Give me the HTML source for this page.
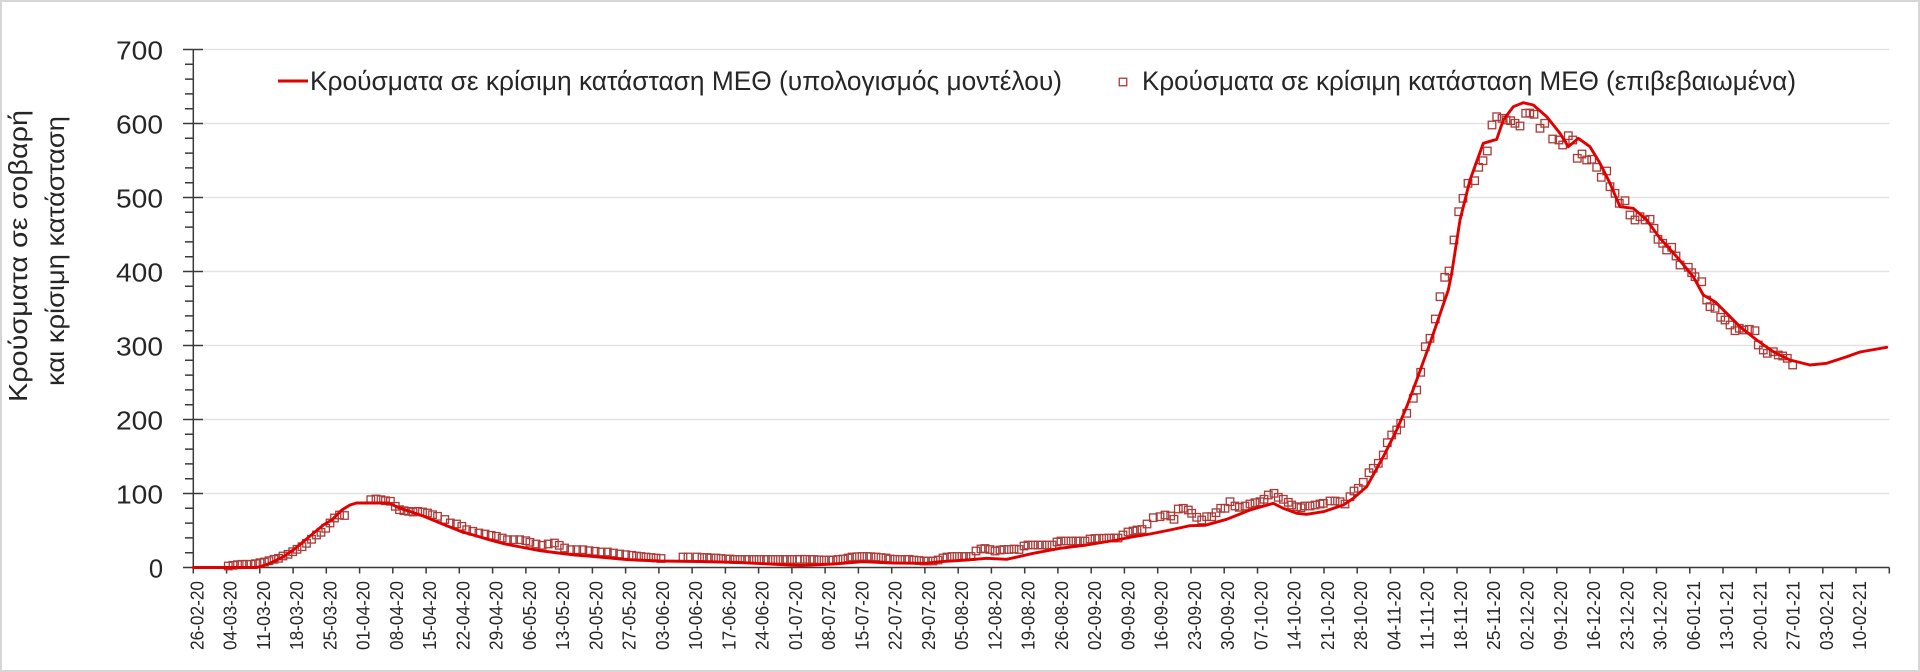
<!DOCTYPE html>
<html><head><meta charset="utf-8"><style>
html,body{margin:0;padding:0;background:#fff;}
svg{display:block;}
text{font-family:"Liberation Sans","DejaVu Sans",sans-serif;fill:#262626;}
</style></head><body>
<svg width="1920" height="672" viewBox="0 0 1920 672" xmlns="http://www.w3.org/2000/svg">
<defs>
<marker id="sq" markerUnits="userSpaceOnUse" markerWidth="12" markerHeight="12" refX="6" refY="6" overflow="visible">
<rect x="2.25" y="2.25" width="7.5" height="7.5" fill="none" stroke="#a93b38" stroke-width="1.3"/>
</marker>
</defs>
<rect x="0" y="0" width="1920" height="672" fill="#fff"/>
<rect x="1" y="1" width="1918" height="670" fill="none" stroke="#d6d6d6" stroke-width="2"/>

<!-- gridlines -->
<g stroke="#e2e2e2" stroke-width="1.6">
<path d="M203 49.5H1889.3M203 123.5H1889.3M203 197.5H1889.3M203 271.5H1889.3M203 345.5H1889.3M203 419.5H1889.3M203 493.5H1889.3"/>
</g>

<!-- axes -->
<g stroke="#3a3a3a" stroke-width="1.5" fill="none">
<path d="M193.3 49.5V567.5M183 567.5H1889.3"/>
<path d="M183 49.5H203M183 123.5H203M183 197.5H203M183 271.5H203M183 345.5H203M183 419.5H203M183 493.5H203"/>
<path d="M185 64.3H193M185 79.1H193M185 93.9H193M185 108.7H193M185 138.3H193M185 153.1H193M185 167.9H193M185 182.7H193M185 212.3H193M185 227.1H193M185 241.9H193M185 256.7H193M185 286.3H193M185 301.1H193M185 315.9H193M185 330.7H193M185 360.3H193M185 375.1H193M185 389.9H193M185 404.7H193M185 434.3H193M185 449.1H193M185 463.9H193M185 478.7H193M185 508.3H193M185 523.1H193M185 537.9H193M185 552.7H193"/>
<path d="M193.3 567.5v6M226.6 567.5v6M259.8 567.5v6M293.1 567.5v6M326.3 567.5v6M359.6 567.5v6M392.8 567.5v6M426.1 567.5v6M459.3 567.5v6M492.6 567.5v6M525.9 567.5v6M559.1 567.5v6M592.4 567.5v6M625.6 567.5v6M658.9 567.5v6M692.1 567.5v6M725.4 567.5v6M758.6 567.5v6M791.9 567.5v6M825.1 567.5v6M858.4 567.5v6M891.7 567.5v6M924.9 567.5v6M958.2 567.5v6M991.4 567.5v6M1024.7 567.5v6M1057.9 567.5v6M1091.2 567.5v6M1124.4 567.5v6M1157.7 567.5v6M1191 567.5v6M1224.2 567.5v6M1257.5 567.5v6M1290.7 567.5v6M1324 567.5v6M1357.2 567.5v6M1390.5 567.5v6M1423.7 567.5v6M1457 567.5v6M1490.2 567.5v6M1523.5 567.5v6M1556.8 567.5v6M1590 567.5v6M1623.3 567.5v6M1656.5 567.5v6M1689.8 567.5v6M1723 567.5v6M1756.3 567.5v6M1789.5 567.5v6M1822.8 567.5v6M1856 567.5v6M1889.3 567.5v6"/>
</g>

<!-- y tick labels -->
<g font-size="25.5" text-anchor="end">
<text x="163" y="59.5" textLength="47" lengthAdjust="spacingAndGlyphs">700</text>
<text x="163" y="133.5" textLength="47" lengthAdjust="spacingAndGlyphs">600</text>
<text x="163" y="207.5" textLength="47" lengthAdjust="spacingAndGlyphs">500</text>
<text x="163" y="281.5" textLength="47" lengthAdjust="spacingAndGlyphs">400</text>
<text x="163" y="355.5" textLength="47" lengthAdjust="spacingAndGlyphs">300</text>
<text x="163" y="429.5" textLength="47" lengthAdjust="spacingAndGlyphs">200</text>
<text x="163" y="503.5" textLength="47" lengthAdjust="spacingAndGlyphs">100</text>
<text x="163" y="577.5">0</text>
</g>

<!-- y axis title -->
<g font-size="26" text-anchor="middle">
<text transform="translate(27,256) rotate(-90)" textLength="292" lengthAdjust="spacingAndGlyphs">Κρούσματα σε σοβαρή</text>
<text transform="translate(64,251) rotate(-90)" textLength="270" lengthAdjust="spacingAndGlyphs">και κρίσιμη κατάσταση</text>
</g>

<!-- x tick labels -->
<g font-size="18" text-anchor="end">
<text transform="translate(203.3,581) rotate(-90)" textLength="69" lengthAdjust="spacingAndGlyphs">26-02-20</text>
<text transform="translate(236.6,581) rotate(-90)" textLength="69" lengthAdjust="spacingAndGlyphs">04-03-20</text>
<text transform="translate(269.8,581) rotate(-90)" textLength="69" lengthAdjust="spacingAndGlyphs">11-03-20</text>
<text transform="translate(303.1,581) rotate(-90)" textLength="69" lengthAdjust="spacingAndGlyphs">18-03-20</text>
<text transform="translate(336.3,581) rotate(-90)" textLength="69" lengthAdjust="spacingAndGlyphs">25-03-20</text>
<text transform="translate(369.6,581) rotate(-90)" textLength="69" lengthAdjust="spacingAndGlyphs">01-04-20</text>
<text transform="translate(402.8,581) rotate(-90)" textLength="69" lengthAdjust="spacingAndGlyphs">08-04-20</text>
<text transform="translate(436.1,581) rotate(-90)" textLength="69" lengthAdjust="spacingAndGlyphs">15-04-20</text>
<text transform="translate(469.3,581) rotate(-90)" textLength="69" lengthAdjust="spacingAndGlyphs">22-04-20</text>
<text transform="translate(502.6,581) rotate(-90)" textLength="69" lengthAdjust="spacingAndGlyphs">29-04-20</text>
<text transform="translate(535.9,581) rotate(-90)" textLength="69" lengthAdjust="spacingAndGlyphs">06-05-20</text>
<text transform="translate(569.1,581) rotate(-90)" textLength="69" lengthAdjust="spacingAndGlyphs">13-05-20</text>
<text transform="translate(602.4,581) rotate(-90)" textLength="69" lengthAdjust="spacingAndGlyphs">20-05-20</text>
<text transform="translate(635.6,581) rotate(-90)" textLength="69" lengthAdjust="spacingAndGlyphs">27-05-20</text>
<text transform="translate(668.9,581) rotate(-90)" textLength="69" lengthAdjust="spacingAndGlyphs">03-06-20</text>
<text transform="translate(702.1,581) rotate(-90)" textLength="69" lengthAdjust="spacingAndGlyphs">10-06-20</text>
<text transform="translate(735.4,581) rotate(-90)" textLength="69" lengthAdjust="spacingAndGlyphs">17-06-20</text>
<text transform="translate(768.6,581) rotate(-90)" textLength="69" lengthAdjust="spacingAndGlyphs">24-06-20</text>
<text transform="translate(801.9,581) rotate(-90)" textLength="69" lengthAdjust="spacingAndGlyphs">01-07-20</text>
<text transform="translate(835.1,581) rotate(-90)" textLength="69" lengthAdjust="spacingAndGlyphs">08-07-20</text>
<text transform="translate(868.4,581) rotate(-90)" textLength="69" lengthAdjust="spacingAndGlyphs">15-07-20</text>
<text transform="translate(901.7,581) rotate(-90)" textLength="69" lengthAdjust="spacingAndGlyphs">22-07-20</text>
<text transform="translate(934.9,581) rotate(-90)" textLength="69" lengthAdjust="spacingAndGlyphs">29-07-20</text>
<text transform="translate(968.2,581) rotate(-90)" textLength="69" lengthAdjust="spacingAndGlyphs">05-08-20</text>
<text transform="translate(1001.4,581) rotate(-90)" textLength="69" lengthAdjust="spacingAndGlyphs">12-08-20</text>
<text transform="translate(1034.7,581) rotate(-90)" textLength="69" lengthAdjust="spacingAndGlyphs">19-08-20</text>
<text transform="translate(1067.9,581) rotate(-90)" textLength="69" lengthAdjust="spacingAndGlyphs">26-08-20</text>
<text transform="translate(1101.2,581) rotate(-90)" textLength="69" lengthAdjust="spacingAndGlyphs">02-09-20</text>
<text transform="translate(1134.4,581) rotate(-90)" textLength="69" lengthAdjust="spacingAndGlyphs">09-09-20</text>
<text transform="translate(1167.7,581) rotate(-90)" textLength="69" lengthAdjust="spacingAndGlyphs">16-09-20</text>
<text transform="translate(1201,581) rotate(-90)" textLength="69" lengthAdjust="spacingAndGlyphs">23-09-20</text>
<text transform="translate(1234.2,581) rotate(-90)" textLength="69" lengthAdjust="spacingAndGlyphs">30-09-20</text>
<text transform="translate(1267.5,581) rotate(-90)" textLength="69" lengthAdjust="spacingAndGlyphs">07-10-20</text>
<text transform="translate(1300.7,581) rotate(-90)" textLength="69" lengthAdjust="spacingAndGlyphs">14-10-20</text>
<text transform="translate(1334,581) rotate(-90)" textLength="69" lengthAdjust="spacingAndGlyphs">21-10-20</text>
<text transform="translate(1367.2,581) rotate(-90)" textLength="69" lengthAdjust="spacingAndGlyphs">28-10-20</text>
<text transform="translate(1400.5,581) rotate(-90)" textLength="69" lengthAdjust="spacingAndGlyphs">04-11-20</text>
<text transform="translate(1433.7,581) rotate(-90)" textLength="69" lengthAdjust="spacingAndGlyphs">11-11-20</text>
<text transform="translate(1467,581) rotate(-90)" textLength="69" lengthAdjust="spacingAndGlyphs">18-11-20</text>
<text transform="translate(1500.2,581) rotate(-90)" textLength="69" lengthAdjust="spacingAndGlyphs">25-11-20</text>
<text transform="translate(1533.5,581) rotate(-90)" textLength="69" lengthAdjust="spacingAndGlyphs">02-12-20</text>
<text transform="translate(1566.8,581) rotate(-90)" textLength="69" lengthAdjust="spacingAndGlyphs">09-12-20</text>
<text transform="translate(1600,581) rotate(-90)" textLength="69" lengthAdjust="spacingAndGlyphs">16-12-20</text>
<text transform="translate(1633.3,581) rotate(-90)" textLength="69" lengthAdjust="spacingAndGlyphs">23-12-20</text>
<text transform="translate(1666.5,581) rotate(-90)" textLength="69" lengthAdjust="spacingAndGlyphs">30-12-20</text>
<text transform="translate(1699.8,581) rotate(-90)" textLength="69" lengthAdjust="spacingAndGlyphs">06-01-21</text>
<text transform="translate(1733,581) rotate(-90)" textLength="69" lengthAdjust="spacingAndGlyphs">13-01-21</text>
<text transform="translate(1766.3,581) rotate(-90)" textLength="69" lengthAdjust="spacingAndGlyphs">20-01-21</text>
<text transform="translate(1799.5,581) rotate(-90)" textLength="69" lengthAdjust="spacingAndGlyphs">27-01-21</text>
<text transform="translate(1832.8,581) rotate(-90)" textLength="69" lengthAdjust="spacingAndGlyphs">03-02-21</text>
<text transform="translate(1866,581) rotate(-90)" textLength="69" lengthAdjust="spacingAndGlyphs">10-02-21</text>
</g>

<!-- confirmed (squares) -->
<polyline fill="none" stroke="none" marker-start="url(#sq)" marker-mid="url(#sq)" marker-end="url(#sq)" points="
228.3,566 233,565.3 237.5,564.7 242,564.3 246.7,564.3 251,564.3 255.5,563.7 260,562.7 264.5,562 269,560.7 274,559.3 278.5,558.3 283,556 288,554.3 292.7,551.7 297,549.3 302,546.7 306.5,543.3 311.5,539.3 316.5,535 321,532.3 325.7,528.3 330,523 334.5,518 339.5,515 344.5,515.5
370.8,499.7 376,499 381,499.7 385.5,500.7 390.4,501.3 395.3,506.3 399.5,509.7 404,510.7 408.5,511.3 413,512 417.7,511.3 422.5,512 427.5,513 432.5,514.7 437.5,516.3 444.8,519.5 450.3,523 456.5,524 461.8,526.3 466.7,529.7 472.8,531.3 478.9,533 485,534 491.1,535.3 496.4,536.3 502.2,538 507.5,539.7 513.6,539.7 519.7,539.7 525.8,540.7 529.9,542.3 536,544 542.1,545.3 548.2,544 554.4,543 559.3,545.3 564.6,548 570.7,549.7 576.8,549.7 582.9,549.7 589,550.7 595.1,551.3 601.2,552 607.4,552 613.5,553 619.6,554 625.7,554.7 631.8,555.3
636.5,556 641,556.5 646,557 651,557.5 656,558 661,558.5
683,557 688,557 697,557 702,557.5 707,557.5 711,558 716,558 721,558.5 726,559 730,559 735,559.5 740,559.5 745,559.5 749,559.5 754,559.5 759,559.5 764,559.5 768,559.5 773,559.5 778,559.5 783,559.5 787,559.5 792,559.5 797,559.5
800,559.3 805,559.3 810,559.5 814,559.5 819,559.8 824,560 829,560 833,560 838,559.5 843,559 848,558 852,557 857,556.7 862,556.5 867,556.5 871,556.7 876,557 881,557.5 886,558 890,559 895,559.3 900,559.5 905,559.5 909,559.3 914,560 919,560.5 924,561 928,561 933,561 938,560 943,558 947,557 952,556.5 957,556.5 962,556.5 966,556.5 971,556.5 976,551 981,549 985,548.5 990,549.5 995,551 1000,550 1004,549.5 1009,549.5 1014,549 1019,549.5 1024,546 1028,545 1033,545 1038,545 1042,545 1047,545 1052,545 1057,542 1061,541 1066,541 1071,541 1076,541 1080,541 1085,541 1090,539 1095,538.5 1099,538.3 1104,538.3 1109,538 1114,538 1118,538 1123,535 1128,532 1133,531 1137,530 1142,529.5 1147,524
1153.3,517.7 1160,516.7 1165,515 1170.7,516 1174,519.3 1178.3,509 1183.3,508.3 1188.3,510 1191.7,513.3 1196.7,517.3 1201.7,520 1206.7,516.7 1211.7,516.7 1216,512.7 1220.7,508.3 1225,508.3 1230,501.7 1235,506 1239.3,507.3 1245,506 1250,504 1255,502.7 1260,501.7 1264,499.3 1268.3,495 1274,493.3 1278.3,497.3 1283.3,499.3 1288.3,502.3 1291.7,505 1296.7,506.7 1301,507.7 1305,506 1310,506 1315,505 1320,504 1323.3,503.3 1330,501 1335,501 1340,501.7 1345,504 1350,496.7 1354,491 1358.3,488.3 1363.3,482.3 1369,472.7 1373.3,468.3 1378.3,463.3 1383.3,455 1387.3,442.7 1391.7,435 1396.7,430 1400.7,423.3 1406.7,413.3 1413.3,398.3 1416.7,390
1420.7,372.3 1425.3,346.7 1430,338.3 1435.3,319 1440,296.7 1444.7,277.3 1449,271 1454,240 1458.7,211.7 1463,198.3 1468,183.3 1474.7,180.7 1478.7,167.3 1483,160.7 1487.3,151 1492,125 1496.7,116.7 1502,118.3 1506,120 1510.7,120.7 1515,123.3 1520,126 1525.7,113.3 1529.8,113 1534,114.3 1540,128.3 1544.7,123.3 1552.7,139 1559,140 1562.7,145 1568.3,135.7 1572.7,140 1577.3,158.3 1582,154 1586.7,160 1591.7,159.3 1596.7,167.3 1601.3,177.3 1606.7,171 1610,186.7 1615,193.3 1619.3,203.3 1625,200.7 1630,215 1635,220 1640,216.7 1645,220 1650,219.3 1654,228.3 1658,239.3 1662.7,243.3 1666.7,250 1671.7,247.3 1676,256 1680,265
1688.3,267.3 1691.7,272.7 1695,276.7 1701.7,281.7 1706.7,300 1710,306.7 1715,308.3 1720.7,317.3 1725,320 1730,325 1735,330.7 1739.3,328.3 1744,330 1749.3,329.3 1755,330.7 1758.3,345 1763.3,350 1767.3,353.3 1773.3,351.7 1778.3,355 1782.7,356 1787.3,358.3 1792.7,365"/>

<!-- model line -->
<polyline fill="none" stroke="#e00000" stroke-width="2.9" stroke-linejoin="round" stroke-linecap="round" points="
193.3,567.5 256.7,567.5 260,566.7 270,563.3 283.3,556.7 293.3,550 303.3,541.7 313.3,533.3 323.3,525 331.7,520 342.2,509.7 350,505 356.5,503 389,503 399.3,508 410,511.5 423.8,516.3 440.1,523 460.5,531.3 475,535.5 489.1,539.7 505,544 525.8,548 540,550.7 558.5,553 575,555 591.1,556.3 610,558 627.8,559.7 660,561 700,561.5 740,562.5 770,564 800,565.5 833,564 863,561.7 893,563 925,563.3 940,561.7 966.7,560 986.7,558.3 1006.7,559.3 1033.3,553.3 1060,548.3 1086.7,545 1116.7,540 1133.3,536.7 1150,534 1170,530 1190,525.7 1205,525.3 1226.7,519.3 1250,510 1273.3,503.3 1283.3,508.3 1296.7,513.3 1306.7,514.3 1323.3,511.7 1343.3,505 1353.3,498.3 1366.7,486.7 1383.3,456.7 1396.7,430 1406.7,406.7 1416.7,380 1430,343.3 1448.3,290 1451.7,273.3 1460,220 1470,180 1483.3,143.3 1496.7,139.3 1503.3,120 1513.3,106.7 1523.3,102.7 1533.3,105 1546.7,116.7 1560,133.3 1568.3,146.7 1578.3,138.3 1590,146.7 1600,163.3 1610,183.3 1620,206.7 1633.3,208.3 1646.7,220 1660,238.3 1676.7,256.7 1693.3,276.7 1703.3,295 1715,301.7 1726.7,313.3 1740,326.7 1756.7,340 1773.3,351.7 1790,360 1810,365 1826.7,363.3 1846.7,356.7 1860,352 1886.7,347.3"/>

<!-- legend -->
<line x1="278" y1="81" x2="308" y2="81" stroke="#e00000" stroke-width="2.9"/>
<text x="310" y="90" font-size="27" textLength="752" lengthAdjust="spacingAndGlyphs">Κρούσματα σε κρίσιμη κατάσταση ΜΕΘ (υπολογισμός μοντέλου)</text>
<rect x="1119.25" y="78.25" width="7.5" height="7.5" fill="none" stroke="#a93b38" stroke-width="1.3"/>
<text x="1142" y="90" font-size="27" textLength="654" lengthAdjust="spacingAndGlyphs">Κρούσματα σε κρίσιμη κατάσταση ΜΕΘ (επιβεβαιωμένα)</text>
</svg>
</body></html>
